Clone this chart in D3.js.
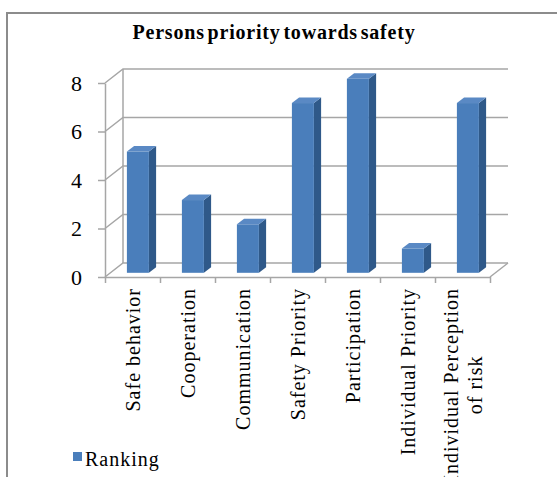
<!DOCTYPE html>
<html><head><meta charset="utf-8">
<script src="https://cdn.jsdelivr.net/npm/d3@7"></script>
<style>
html,body{margin:0;padding:0;background:#fff;}
svg{display:block;}
</style></head>
<body>
<svg id="chart" width="557" height="477"></svg>
<script>
const title = "Persons priority towards safety";
const categories = ["Safe behavior","Cooperation","Communication","Safety Priority","Participation","Individual Priority","Individual Perception\nof risk"];
const ranking = [5,3,2,7,8,1,7];
const seriesName = "Ranking";
const yTicks = [0,2,4,6,8];

const FONT = "'Liberation Serif','Times New Roman',Times,'DejaVu Serif',serif";
const svg = d3.select("#chart").attr("font-family", FONT);
const W = 557, H = 477;
const DX = 18, DY = -14;          // 3D depth offset
const gridColor = "#a6a6a6";
const front = "#4a7ebb", side = "#2f5989", topC = "#5a89c4";

// chart frame (extends past image right/bottom)
svg.append("path").attr("d", `M7,${H+5}V13H${W+5}`)
  .attr("fill","none").attr("stroke","#8c8c8c").attr("stroke-width",2);

svg.append("text").attr("x",274).attr("y",39).attr("text-anchor","middle")
  .style("font-family",FONT)
  .style("font-size","20px").style("font-weight","bold")
  .style("letter-spacing","0.8px").style("word-spacing","-3px")
  .text(title);

const x = d3.scaleBand().domain(categories).range([105,490]).padding(0);
const xEdge = d3.scaleLinear().domain([0,categories.length]).range([105,490]);
const y = d3.scaleLinear().domain([0,8]).range([277,83]);

const g = svg.append("g");
// back wall gridlines + left wall diagonals
yTicks.forEach(v=>{
  g.append("path").attr("d",`M${105},${y(v)}L${105+DX},${y(v)+DY}H${490+DX}`)
    .attr("fill","none").attr("stroke",gridColor).attr("stroke-width",1.5);
});
// back wall left edge
g.append("line").attr("x1",105+DX).attr("x2",105+DX).attr("y1",y(0)+DY).attr("y2",y(8)+DY)
  .attr("stroke",gridColor).attr("stroke-width",1.5);
// floor right edge
g.append("line").attr("x1",490).attr("y1",y(0)).attr("x2",490+DX).attr("y2",y(0)+DY)
  .attr("stroke",gridColor).attr("stroke-width",1.5);

// y axis
const yAxis = g.append("g").attr("transform","translate(105,0)")
  .call(d3.axisLeft(y).tickValues(yTicks).tickSize(7).tickSizeOuter(0).tickPadding(16));
yAxis.attr("font-family",FONT);
yAxis.select(".domain").attr("stroke",gridColor).attr("stroke-width",1.5);
yAxis.selectAll(".tick line").attr("stroke",gridColor).attr("stroke-width",1.5);
yAxis.selectAll("text").style("font-family",FONT).style("font-size","22px").attr("fill","#000").attr("dy","0.34em");

// x axis (floor front edge with ticks at category boundaries)
const xAxis = g.append("g").attr("transform",`translate(0,${y(0)})`)
  .call(d3.axisBottom(xEdge).tickValues(d3.range(categories.length+1)).tickFormat("").tickSize(6).tickSizeOuter(0));
xAxis.select(".domain").attr("stroke",gridColor).attr("stroke-width",1.5);
xAxis.selectAll(".tick line").attr("stroke",gridColor).attr("stroke-width",1.5);

// bars
const f0 = 0.3, f1 = 0.7, bwFrac = 0.4;
const bars = g.append("g");
categories.forEach((c,i)=>{
  const v = ranking[i];
  const cx = x(c) + x.bandwidth()/2;
  const bw = x.bandwidth()*bwFrac;
  const ox = f0*DX, oy = f0*DY, ddx=(f1-f0)*DX, ddy=(f1-f0)*DY;
  const x0 = cx - bw/2 + ox, x1 = cx + bw/2 + ox;
  const yt = y(v) + oy, yb = y(0) + oy;
  bars.append("path").attr("d",`M${x1},${yt}L${x1+ddx},${yt+ddy}L${x1+ddx},${yb+ddy}L${x1},${yb}Z`).attr("fill",side);
  bars.append("path").attr("d",`M${x0},${yt}L${x1},${yt}L${x1+ddx},${yt+ddy}L${x0+ddx},${yt+ddy}Z`).attr("fill",topC);
  bars.append("rect").attr("x",x0).attr("y",yt).attr("width",bw).attr("height",yb-yt).attr("fill",front);
});

// category labels (rotated)
categories.forEach(c=>{
  const lines = c.split("\n");
  const cx = x(c) + x.bandwidth()/2;
  const lg = svg.append("g").attr("transform",`translate(${cx},288) rotate(-90)`);
  const t = lg.append("text").style("font-family",FONT).style("font-size","20px").style("letter-spacing","1px");
  const spans = lines.map((l,j)=> t.append("tspan").text(l));
  const lens = spans.map(s=>s.node().getComputedTextLength());
  const maxL = d3.max(lens);
  spans.forEach((s,j)=>{
    s.attr("x",-maxL/2).attr("text-anchor","middle")
     .attr("y",0).attr("dy",((j-(lines.length-1)/2)*1.2+0.35)+"em");
  });
});

// legend
svg.append("rect").attr("x",73).attr("y",452).attr("width",9).attr("height",9).attr("fill",front);
svg.append("text").attr("x",85).attr("y",466).style("font-family",FONT).style("font-size","20px").style("letter-spacing","1px").text(seriesName);
</script>
</body></html>
